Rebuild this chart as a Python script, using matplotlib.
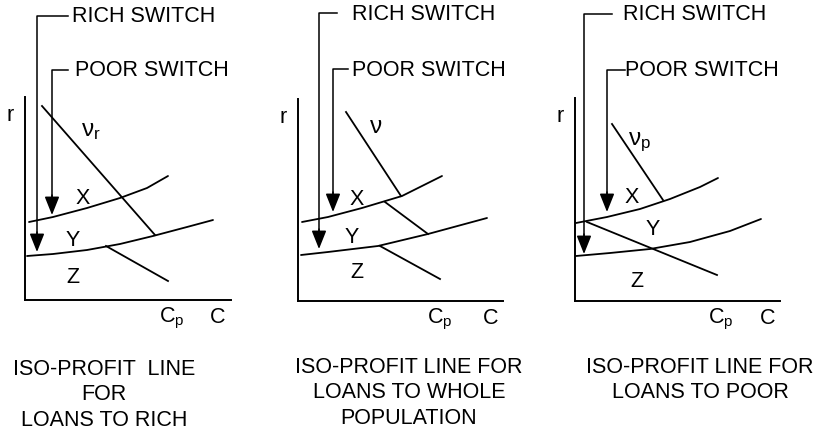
import matplotlib
matplotlib.use("Agg")
import matplotlib.pyplot as plt

plt.rcParams['font.family'] = ['Liberation Sans', 'DejaVu Sans']
plt.rcParams['mathtext.fontset'] = 'custom'
plt.rcParams['mathtext.rm'] = 'Liberation Sans'
plt.rcParams['mathtext.it'] = 'Liberation Sans'

W, H = 813, 439
FS = 15.5

# panel geometry in pixels of the page: origin of each r-C diagram and axis lengths
origins = [(25, 301), (298, 302), (575, 302)]
axis_len = [(206, 203), (205, 202), (205, 203)]

# upper boundary curve (between X and Y), local units
upper_c = [[4, 28, 62, 95, 122, 143],
           [4, 30, 64, 104, 144],
           [1, 32, 65, 95, 125, 143]]
upper_r = [[78, 83, 92, 102, 112, 124],
           [79, 84, 93, 105, 125],
           [78, 84, 92, 102, 114, 123]]

# lower boundary curve (between Y and Z)
lower_c = [[2, 28, 62, 95, 128, 162, 188],
           [3, 30, 80, 130, 189],
           [1, 35, 75, 115, 155, 186]]
lower_r = [[44, 46, 50, 56, 64, 73, 80],
           [46, 49, 55, 67, 83],
           [45, 48, 52, 59, 70, 82]]

# iso-profit segments: (c0, r0, c1, r1)
iso_lines = [[(17, 194, 130, 65), (81, 54, 143, 19)],
             [(48, 189, 103, 105), (87, 99, 130, 67), (82, 55, 142, 22)],
             [(37, 177, 88, 101), (12, 79, 142, 26)]]

# switch arrows: x of shaft, top of bracket, end of bracket bar, arrow tip
rich_switch = [(12, 284, 43, 48), (21, 288, 39, 52), (9, 287, 37, 47)]
poor_switch = [(27, 230, 43, 85), (35, 232, 50, 89), (32, 231, 50, 89)]
rich_text_x = [47, 54, 48]
poor_text_x = [50, 54, 50]

nu_labels = [r'$\nu_\mathrm{r}$', r'$\nu$', r'$\nu_\mathrm{p}$']
nu_pos = [(66, 170), (78, 175), (64, 160)]
xyz_pos = [[(58, 102), (48, 60), (48, 23)],
           [(59, 102), (54, 64), (59, 29)],
           [(57, 104), (78, 72), (62, 20)]]
cp_x = [147, 142, 146]
c_x = [193, 193, 193]

captions = ["ISO-PROFIT  LINE\nFOR\nLOANS TO RICH",
            "ISO-PROFIT LINE FOR\nLOANS TO WHOLE\nPOPULATION",
            "ISO-PROFIT LINE FOR\nLOANS TO POOR"]
caption_xy = [(104, 395), (409, 393), (700, 380)]

fig = plt.figure(figsize=(W / 100, H / 100), dpi=100)
lw = 1.3

for i in range(3):
    ox, oy = origins[i]
    w, h = axis_len[i]
    ax = fig.add_axes([ox / W, (H - oy) / H, w / W, h / H])
    ax.set_xlim(0, w)
    ax.set_ylim(0, h)
    for s in ['top', 'right']:
        ax.spines[s].set_visible(False)
    for s in ['left', 'bottom']:
        ax.spines[s].set_linewidth(1.4)
    ax.set_xticks([])
    ax.set_yticks([])
    ax.patch.set_alpha(0)

    ax.plot(upper_c[i], upper_r[i], color='k', lw=lw, solid_capstyle='round')
    ax.plot(lower_c[i], lower_r[i], color='k', lw=lw, solid_capstyle='round')
    for c0, r0, c1, r1 in iso_lines[i]:
        ax.plot([c0, c1], [r0, r1], color='k', lw=lw)

    for (sx, top, bar_end, tip), tx, label in [
            (rich_switch[i], rich_text_x[i], 'RICH SWITCH'),
            (poor_switch[i], poor_text_x[i], 'POOR SWITCH')]:
        ax.plot([bar_end, sx, sx], [top, top, tip + 10], color='k', lw=1.1,
                clip_on=False)
        ax.annotate('', xy=(sx, tip), xytext=(sx, tip + 20),
                    arrowprops=dict(arrowstyle='-|>,head_length=0.75,head_width=0.3',
                                    mutation_scale=15, color='k', lw=1.1,
                                    shrinkA=0, shrinkB=0),
                    annotation_clip=False)
        ax.text(tx, top, label, fontsize=FS, ha='left', va='center',
                clip_on=False)

    ax.text(nu_pos[i][0], nu_pos[i][1], nu_labels[i], fontsize=FS + 2,
            ha='center', va='center')
    for lab, (px, py) in zip(['X', 'Y', 'Z'], xyz_pos[i]):
        ax.text(px, py, lab, fontsize=FS, ha='center', va='center')
    ax.text(-15, h - 18, 'r', fontsize=FS, ha='center', va='center',
            clip_on=False)
    ax.text(cp_x[i], -17, r'C$_\mathrm{p}$', fontsize=FS, ha='center',
            va='center', clip_on=False)
    ax.text(c_x[i], -17, 'C', fontsize=FS, ha='center', va='center',
            clip_on=False)

for txt, (cx, cy) in zip(captions, caption_xy):
    fig.text(cx / W, 1 - cy / H, txt, fontsize=FS, ha='center', va='center',
             multialignment='center', linespacing=1.3)

fig.savefig("out.png", dpi=100)
